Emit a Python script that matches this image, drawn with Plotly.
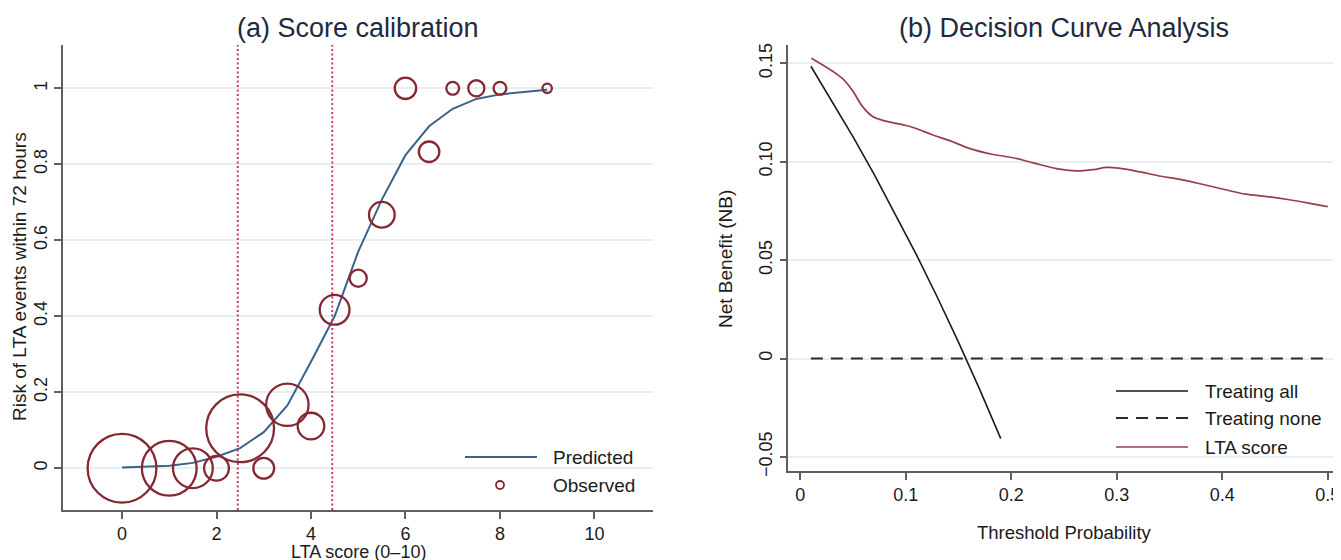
import plotly.graph_objects as go

# ---------------- data ----------------
# (a) Score calibration
pred_score = [0, 1, 1.5, 2, 2.5, 3, 3.5, 4, 4.5, 5, 5.5, 6, 6.5, 7, 7.5, 8, 9]
pred_risk = [0.002, 0.0065, 0.014, 0.03, 0.053, 0.095, 0.165, 0.28, 0.40, 0.57,
             0.707, 0.824, 0.90, 0.946, 0.972, 0.984, 0.996]

obs_score = [0, 1, 1.5, 2, 2.5, 3, 3.5, 4, 4.5, 5, 5.5, 6, 6.5, 7, 7.5, 8, 9]
obs_risk = [0, 0, 0, 0, 0.105, 0, 0.167, 0.111, 0.417, 0.5, 0.667, 1, 0.833, 1, 1, 1, 1]
obs_diam = [71, 57, 42, 27, 70, 23, 44.6, 28.8, 32, 19.3, 27.9, 23.6, 22.7, 15, 18.3, 15, 11.6]

cutoffs = [2.45, 4.45]

a_xticks = [0, 2, 4, 6, 8, 10]
a_yticks = [0, 0.2, 0.4, 0.6, 0.8, 1]
a_yticklabels = ["0", "0.2", "0.4", "0.6", "0.8", "1"]

# (b) Decision curve analysis
treat_all_pt = [0.01, 0.03, 0.05, 0.07, 0.09, 0.11, 0.13, 0.15, 0.17, 0.19]
treat_all_nb = [0.1485, 0.1309, 0.1126, 0.0936, 0.0736, 0.0528, 0.0310, 0.0082, -0.0157, -0.0407]

treat_none_pt = [0.01, 0.5]
treat_none_nb = [0, 0]

lta_pt = [0.0104, 0.039, 0.049, 0.059, 0.069, 0.081, 0.100, 0.109, 0.125, 0.1415,
          0.1616, 0.1816, 0.2017, 0.2217, 0.2458, 0.2618, 0.2779, 0.290, 0.302,
          0.322, 0.342, 0.362, 0.382, 0.402, 0.422, 0.442, 0.462, 0.482, 0.500]
lta_nb = [0.1526, 0.1427, 0.1365, 0.128, 0.1228, 0.1206, 0.1184, 0.117, 0.1137, 0.1107,
          0.1065, 0.1038, 0.102, 0.0993, 0.0962, 0.0953, 0.096, 0.0971, 0.0967,
          0.0948, 0.0926, 0.0908, 0.0884, 0.0859, 0.0835, 0.0823, 0.0808, 0.079, 0.0772]

b_xticks = [0, 0.1, 0.2, 0.3, 0.4, 0.5]
b_xticklabels = ["0", "0.1", "0.2", "0.3", "0.4", "0.5"]
b_yticks = [-0.05, 0, 0.05, 0.10, 0.15]
b_yticklabels = ["\u22120.05", "0", "0.05", "0.10", "0.15"]

# ---------------- styling ----------------
W, H = 1341, 560
OFF = 8  # page body margin in the browser
FONT = "Liberation Sans, Arial, sans-serif"
TXT = "#1b1b1b"
AXC = "#5f5f5f"
GRID = "#e7efef"
BLUE = "#3a628a"
MAROON = "#862832"
LTA_C = "#983f49"
DOT_RED = "#d42a55"


def px(x):
    return (x - OFF) / W


def py(y):
    return 1 - (y - OFF) / H


fig = go.Figure()

fig.add_trace(go.Scatter(x=pred_score, y=pred_risk, mode="lines",
                         line=dict(color=BLUE, width=2), xaxis="x", yaxis="y",
                         showlegend=False, name="Predicted"))
fig.add_trace(go.Scatter(x=obs_score, y=obs_risk, mode="markers",
                         marker=dict(size=[d - 2.2 for d in obs_diam], symbol="circle-open",
                                     color=MAROON, opacity=1,
                                     line=dict(color=MAROON, width=2.3)),
                         xaxis="x", yaxis="y", showlegend=False, name="Observed"))

fig.add_trace(go.Scatter(x=treat_none_pt, y=treat_none_nb, mode="lines",
                         line=dict(color="#2a2a2a", width=2, dash="12px,8px"),
                         xaxis="x2", yaxis="y2", showlegend=False, name="Treating none"))
fig.add_trace(go.Scatter(x=treat_all_pt, y=treat_all_nb, mode="lines",
                         line=dict(color="#1a1a1a", width=1.6),
                         xaxis="x2", yaxis="y2", showlegend=False, name="Treating all"))
fig.add_trace(go.Scatter(x=lta_pt, y=lta_nb, mode="lines", line_shape="spline",
                         line=dict(color=LTA_C, width=1.7),
                         xaxis="x2", yaxis="y2", showlegend=False, name="LTA score"))

for c in cutoffs:
    fig.add_shape(type="line", xref="x", yref="y domain", x0=c, x1=c, y0=0, y1=1,
                  line=dict(color=DOT_RED, width=1.9, dash="2px,2.5px"))

axis_common = dict(showline=True, linecolor=AXC, linewidth=1.6, ticks="outside",
                   ticklen=7, tickwidth=1.5, tickcolor=AXC, zeroline=False,
                   tickfont=dict(family=FONT, size=18, color=TXT), mirror=False)

fig.update_layout(
    width=W, height=H,
    margin=dict(l=0, r=0, t=0, b=0, autoexpand=False),
    paper_bgcolor="white", plot_bgcolor="white",
    font=dict(family=FONT, color=TXT),
    xaxis=dict(domain=[px(62.5), px(653)], range=[-1.26, 11.24], tickvals=a_xticks,
               showgrid=False, anchor="y", **axis_common),
    yaxis=dict(domain=[py(510), py(45)], range=[-0.110, 1.114], tickvals=a_yticks,
               ticktext=a_yticklabels, tickangle=-90, showgrid=True, gridcolor=GRID,
               gridwidth=1.5, anchor="x", **axis_common),
    xaxis2=dict(domain=[px(788.3), px(1341)], range=[-0.0114, 0.5125], tickvals=b_xticks,
                ticktext=b_xticklabels, showgrid=False, anchor="y2", **axis_common),
    yaxis2=dict(domain=[py(470.7), py(45)], range=[-0.0570, 0.1593], tickvals=b_yticks,
                ticktext=b_yticklabels, tickangle=-90, showgrid=True, gridcolor=GRID,
                gridwidth=1.5, anchor="x2", **axis_common),
)

ann = []


def text(x, y, s, size, anchor="center", angle=0, color=TXT):
    ann.append(dict(x=px(x), y=py(y), xref="paper", yref="paper", text=s, showarrow=False,
                    xanchor=anchor, yanchor="middle", textangle=angle,
                    font=dict(family=FONT, size=size, color=color)))


text(358, 28, "(a) Score calibration", 27, color="#1e2a40")
text(1064, 28, "(b) Decision Curve Analysis", 27, color="#1e2a40")
text(358, 552, "LTA score (0\u201310)", 18)
text(1064, 532, "Threshold Probability", 18.5)
text(19, 277, "Risk of LTA events within 72 hours", 19, angle=-90)
text(726, 259, "Net Benefit (NB)", 19, angle=-90)

# legend (a)
fig.add_shape(type="line", xref="paper", yref="paper", x0=px(465), x1=px(537),
              y0=py(457), y1=py(457), line=dict(color=BLUE, width=2))
fig.add_shape(type="circle", xref="paper", yref="paper", x0=px(496), x1=px(504),
              y0=py(489), y1=py(481), line=dict(color=MAROON, width=1.8))
text(551, 457, "Predicted", 19, anchor="left")
text(551, 485, "Observed", 19, anchor="left")

# legend (b)
fig.add_shape(type="line", xref="paper", yref="paper", x0=px(1116), x1=px(1188),
              y0=py(391), y1=py(391), line=dict(color="#1a1a1a", width=1.6))
fig.add_shape(type="line", xref="paper", yref="paper", x0=px(1116), x1=px(1188),
              y0=py(418), y1=py(418), line=dict(color="#2a2a2a", width=2, dash="12px,8px"))
fig.add_shape(type="line", xref="paper", yref="paper", x0=px(1116), x1=px(1188),
              y0=py(447), y1=py(447), line=dict(color=LTA_C, width=1.7))
text(1203, 391, "Treating all", 19, anchor="left")
text(1203, 418, "Treating none", 19, anchor="left")
text(1203, 447, "LTA score", 19, anchor="left")

fig.update_layout(annotations=ann)

fig.write_html("out.html")
